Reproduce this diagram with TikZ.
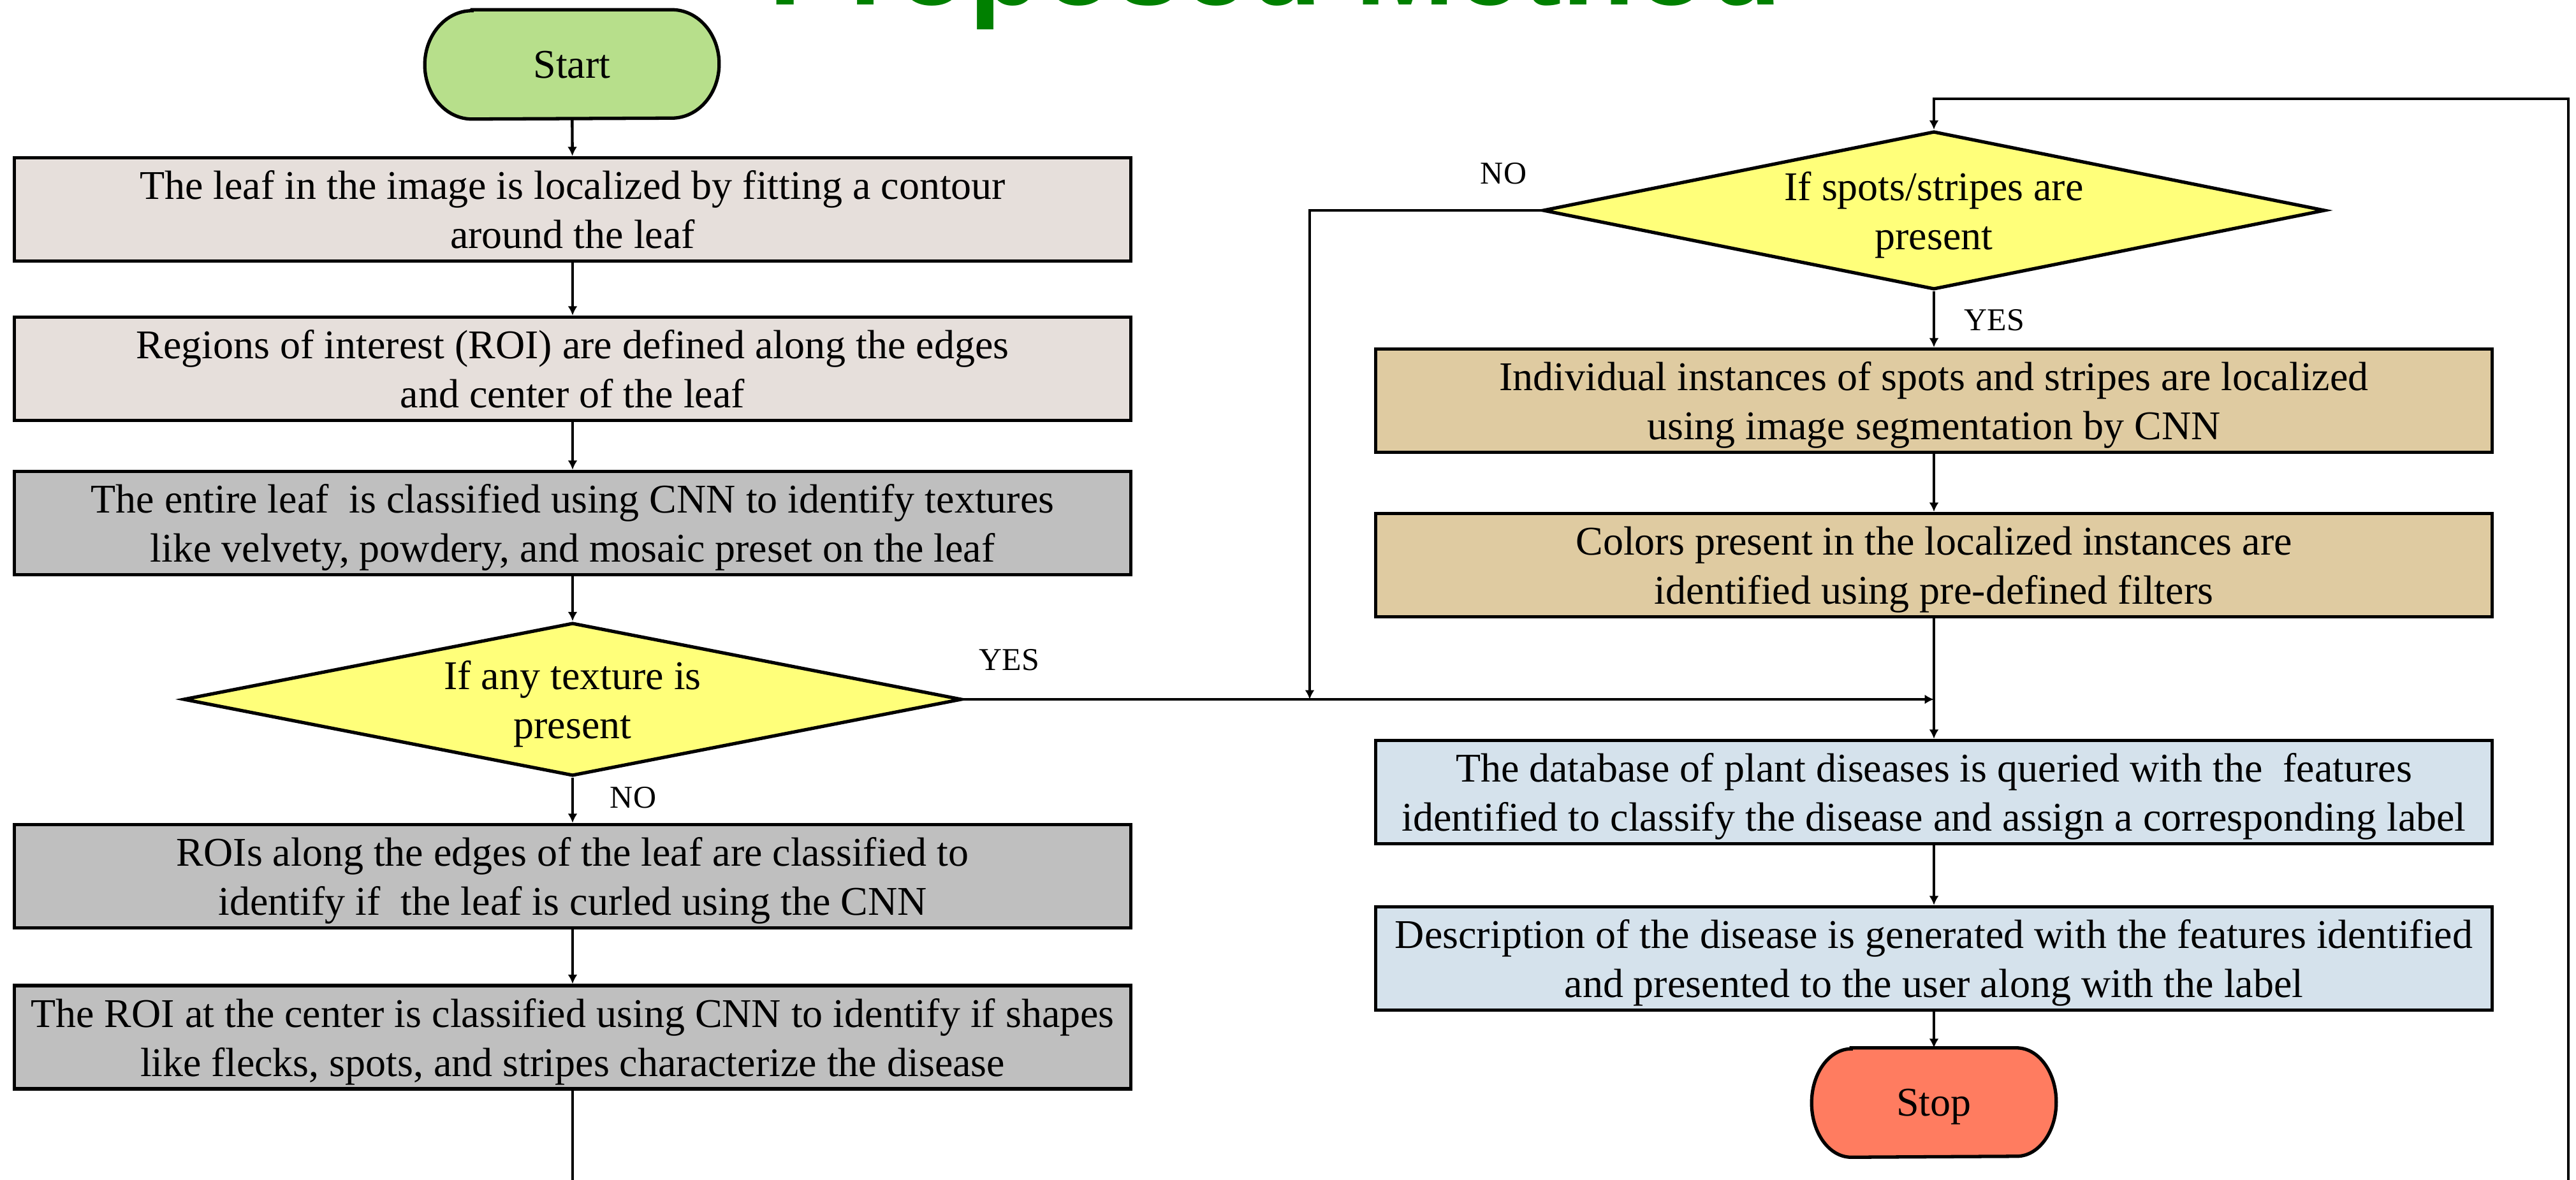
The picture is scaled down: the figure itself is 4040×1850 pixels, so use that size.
\documentclass[tikz,border=0pt]{standalone}
\usepackage{fontspec}
\setmainfont{Liberation Serif}
\newfontfamily\titlefont{Liberation Sans}
\usetikzlibrary{shapes.geometric,arrows.meta,calc}
\pgfdeclarelayer{bg}
\pgfsetlayers{bg,main}

\definecolor{startgreen}{RGB}{183,223,139}
\definecolor{boxlight}{RGB}{230,223,219}
\definecolor{boxgray}{RGB}{191,191,191}
\definecolor{decyellow}{RGB}{255,255,122}
\definecolor{boxtan}{RGB}{223,203,161}
\definecolor{boxblue}{RGB}{213,226,236}
\definecolor{stopred}{RGB}{255,124,96}
\definecolor{titlegreen}{RGB}{0,128,0}

\tikzset{
  txt/.style={font=\fontsize{18.2}{21.9}\selectfont, align=center, text=black, text depth=-0.1cm},
  procbox/.style={txt, draw=black, line width=1.5pt, rectangle,
    minimum width=17.50cm, minimum height=1.62cm, inner sep=0pt},
  decision/.style={txt, draw=black, line width=1.5pt, diamond, aspect=5,
    fill=decyellow, inner sep=0pt},
  termnode/.style={txt, draw=none, rectangle, inner sep=0pt, minimum height=1.70cm},
  conn/.style={draw=black, line width=1.25pt, -{Latex[length=1.45mm,width=1.5mm]}},
  lbl/.style={font=\fontsize{14.2}{17}\selectfont, inner sep=0pt, text=black},
}

\newcommand\termpath[3]{%
  \begin{pgfonlayer}{bg}
  \path[draw=black, line width=1.5pt, fill=#2]
    ($(#1.north west)+(#3,0)$) -- ($(#1.north east)+(-#3,0)$)
    arc[start angle=-90, end angle=90, x radius=#3, y radius=85]
    -- ($(#1.south west)+(#3,0)$)
    arc[start angle=90, end angle=270, x radius=#3, y radius=85] -- cycle;
  \end{pgfonlayer}}

\begin{document}
\begin{tikzpicture}[x=0.01cm,y=-0.01cm]
\useasboundingbox (0,0) rectangle (4040,1850);
\clip (0,0) rectangle (4040,1850);

% title (cut off at top)
\node[font=\titlefont\bfseries\fontsize{53.5}{60}\selectfont, text=titlegreen,
  anchor=base, inner sep=0pt] (title) at (2000,7) {Proposed Method};

% left column
\node[termnode, minimum width=4.60cm] (start) at (897,101) {Start};
\termpath{start}{startgreen}{74}

\node[procbox, fill=boxlight] (b1) at (898,328.5)
  {The leaf in the image is localized by fitting a contour\\around the leaf};
\node[procbox, fill=boxlight] (b2) at (898,578.5)
  {Regions of interest (ROI) are defined along the edges\\and center of the leaf};
\node[procbox, fill=boxgray] (b3) at (898,820.5)
  {The entire leaf\ \ is classified using CNN to identify textures\\like velvety, powdery, and mosaic preset on the leaf};
\node[decision, minimum width=12.20cm, minimum height=2.40cm] (d1) at (898,1097)
  {If any texture is\\present};
\node[procbox, fill=boxgray] (b4) at (898,1374.5)
  {ROIs along the edges of the leaf are classified to\\identify if\ \ the leaf is curled using the CNN};
\node[procbox, fill=boxgray] (b5) at (898,1627)
  {The ROI at the center is classified using CNN to identify if shapes\\like flecks, spots, and stripes characterize the disease};

% right column
\node[decision, minimum width=12.26cm, minimum height=2.48cm] (d2) at (3033,330)
  {If spots/stripes are\\present};
\node[procbox, fill=boxtan] (r1) at (3033,628.5)
  {Individual instances of spots and stripes are localized\\using image segmentation by CNN};
\node[procbox, fill=boxtan] (r2) at (3033,886.5)
  {Colors present in the localized instances are\\identified using pre-defined filters};
\node[procbox, fill=boxblue] (r3) at (3033,1242.5)
  {The database of plant diseases is queried with the\ \ features\\identified to classify the disease and assign a corresponding label};
\node[procbox, fill=boxblue] (r4) at (3033,1503.5)
  {Description of the disease is generated with the features identified\\and presented to the user along with the label};
\node[termnode, minimum width=3.82cm] (stop) at (3033,1729.5) {Stop};
\termpath{stop}{stopred}{62}

% labels
\node[lbl] (yes1) at (1583,1035) {YES};
\node[lbl] (no1) at (993,1251) {NO};
\node[lbl] (no2) at (2358,272) {NO};
\node[lbl] (yes2) at (3128,502) {YES};

% helper coordinates
\coordinate (nox) at (2054,0);
\coordinate (loopy) at (0,2000);
\coordinate (rightx) at (4028,0);
\coordinate (topy) at (0,155);

% connectors
\draw[conn] (start) -- (b1);
\draw[conn] (b1) -- (b2);
\draw[conn] (b2) -- (b3);
\draw[conn] (b3) -- (d1);
\draw[conn] (d1) -- (b4);
\draw[conn] (b4) -- (b5);
\draw[conn] (b5.south) -- (b5.south |- loopy) -| (rightx |- topy) -| (d2.north);
\draw[conn] (d2) -- (r1);
\draw[conn] (r1) -- (r2);
\draw[conn] (r2) -- (r3);
\draw[conn] (r3) -- (r4);
\draw[conn] (r4) -- (stop);
\draw[conn] (d1.east) -- (d1.east -| r2.south);
\draw[conn] (d2.west) -- (d2.west -| nox) -- (nox |- d1.east);
\end{tikzpicture}
\end{document}
